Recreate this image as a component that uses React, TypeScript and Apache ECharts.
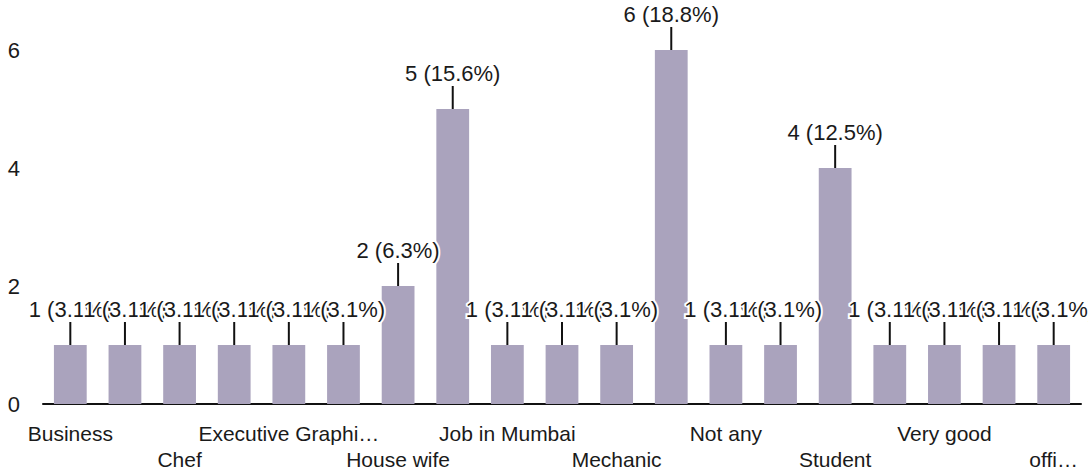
import React, { useEffect, useRef } from "react";
import * as echarts from "echarts";

const categories = [
  "Business", "Carpenter", "Chef", "Driver", "Executive Graphi…", "Farmer",
  "House wife", "Housewife", "Job in Mumbai", "Labour", "Mechanic", "No",
  "Not any", "Private job", "Student", "Teacher", "Very good", "Worker", "offi…",
];
const counts = [1, 1, 1, 1, 1, 1, 2, 5, 1, 1, 1, 6, 1, 1, 4, 1, 1, 1, 1];
const yTicks = [0, 2, 4, 6];

const total = counts.reduce((a, b) => a + b, 0);

export default function App() {
  const ref = useRef<HTMLDivElement>(null);
  useEffect(() => {
    document.body.style.margin = "0";
    const chart = echarts.init(ref.current!, null, { renderer: "svg" });
    chart.setOption({
      animation: false,
      grid: { left: 43, right: 7, top: 50, bottom: 70 },
      xAxis: {
        type: "category",
        data: categories,
        axisLine: { show: true, lineStyle: { color: "#111", width: 2 } },
        axisTick: { show: false },
        axisLabel: {
          interval: 1,
          margin: 16,
          fontSize: 21,
          lineHeight: 26,
          color: "#1a1a1a",
          fontFamily: "Liberation Sans, Arial, sans-serif",
          formatter: (v: string, i: number) => (i % 4 === 2 ? "\n" + v : v),
        },
      },
      yAxis: {
        type: "value",
        min: yTicks[0],
        max: yTicks[yTicks.length - 1],
        interval: 2,
        axisLine: { show: false },
        axisTick: { show: false },
        splitLine: { show: false },
        axisLabel: {
          margin: 23,
          fontSize: 22,
          color: "#1a1a1a",
          fontFamily: "Liberation Sans, Arial, sans-serif",
        },
      },
      series: [
        {
          type: "bar",
          data: counts,
          barCategoryGap: "40%",
          itemStyle: { color: "#aaa3bd" },
          label: {
            show: true,
            position: "top",
            distance: 4,
            fontSize: 22,
            color: "#1a1a1a",
            fontFamily: "Liberation Sans, Arial, sans-serif",
            textBorderColor: "#fff",
            textBorderWidth: 4,
            formatter: (p: any) =>
              `${p.value} (${(Math.round((p.value * 1000) / total) / 10).toFixed(1)}%)`,
          },
          labelLayout: { dy: -21 },
          labelLine: { show: true, lineStyle: { color: "#111", width: 2 } },
        },
      ],
    });
    return () => chart.dispose();
  }, []);
  return <div ref={ref} style={{ width: 1088, height: 474 }} />;
}
